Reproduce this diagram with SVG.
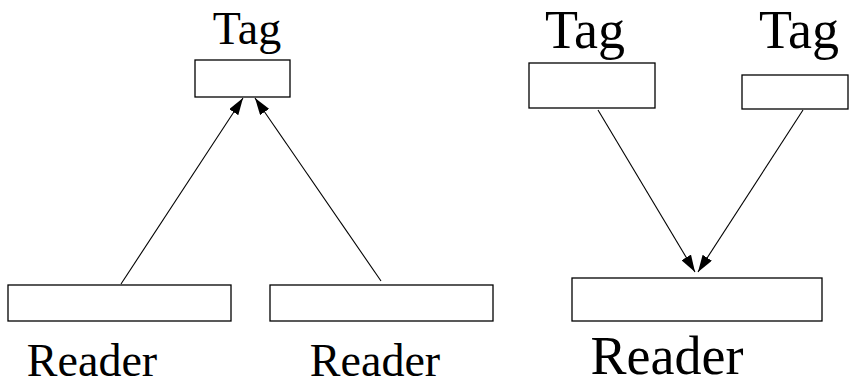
<svg xmlns="http://www.w3.org/2000/svg" width="859" height="385" viewBox="0 0 859 385">
<defs>
<style>
.box{fill:#fff;stroke:#000;stroke-width:1.3}
.lbl{font-family:"Liberation Serif","Times New Roman",serif;fill:#000;text-anchor:middle}
.edge{stroke:#000;stroke-width:1.1;fill:none;marker-end:url(#ah)}
</style>
<marker id="ah" viewBox="0 0 17 11" refX="17" refY="5.5" markerWidth="17" markerHeight="11" markerUnits="userSpaceOnUse" orient="auto">
<path d="M0,0 L17,5.5 L0,11 z" fill="#000"/>
</marker>
</defs>
<rect width="859" height="385" fill="#fff"/>
<g id="connectors">
<line class="edge" x1="121" y1="284" x2="243" y2="98"/>
<line class="edge" x1="381" y1="281" x2="255" y2="98"/>
<line class="edge" x1="598" y1="110" x2="695" y2="272"/>
<line class="edge" x1="803" y1="110" x2="698" y2="272"/>
</g>
<g id="tag1">
<rect class="box" x="195" y="60" width="95" height="37"/>
<text class="lbl" x="247" y="44" font-size="46">Tag</text>
</g>
<g id="tag2">
<rect class="box" x="529" y="63" width="126" height="45"/>
<text class="lbl" x="585" y="48" font-size="54">Tag</text>
</g>
<g id="tag3">
<rect class="box" x="742" y="75" width="106" height="34"/>
<text class="lbl" x="799" y="48" font-size="54">Tag</text>
</g>
<g id="reader1">
<rect class="box" x="8" y="285" width="223" height="36"/>
<text class="lbl" x="92" y="376" font-size="46">Reader</text>
</g>
<g id="reader2">
<rect class="box" x="270" y="285" width="223" height="36"/>
<text class="lbl" x="375" y="376" font-size="46">Reader</text>
</g>
<g id="reader3">
<rect class="box" x="572" y="278" width="250" height="43"/>
<text class="lbl" x="667" y="374" font-size="54">Reader</text>
</g>
</svg>
